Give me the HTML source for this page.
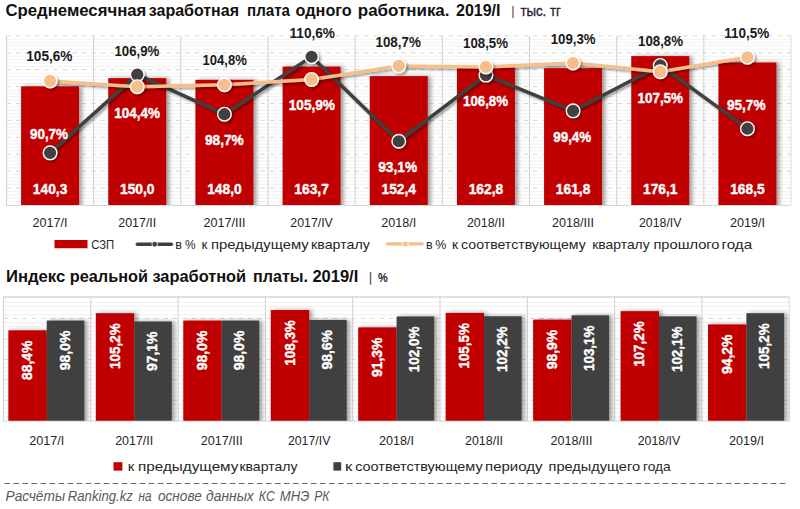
<!DOCTYPE html>
<html><head><meta charset="utf-8"><style>
html,body{margin:0;padding:0;background:#fff;width:800px;height:509px;overflow:hidden}
svg{display:block;font-family:"Liberation Sans", sans-serif}
</style></head><body>
<svg width="800" height="509" viewBox="0 0 800 509">
<rect width="800" height="509" fill="#fff"/>

<defs>
 <filter id="sh" x="-20%" y="-20%" width="150%" height="150%">
  <feGaussianBlur in="SourceAlpha" stdDeviation="2"/>
  <feOffset dx="3.2" dy="0" result="o"/>
  <feComponentTransfer><feFuncA type="linear" slope="0.38"/></feComponentTransfer>
  <feMerge><feMergeNode/><feMergeNode in="SourceGraphic"/></feMerge>
 </filter>
 <filter id="lsh" x="-5%" y="-20%" width="110%" height="150%">
  <feGaussianBlur in="SourceAlpha" stdDeviation="1.2"/>
  <feOffset dx="1.5" dy="2" result="o"/>
  <feComponentTransfer><feFuncA type="linear" slope="0.35"/></feComponentTransfer>
  <feMerge><feMergeNode/><feMergeNode in="SourceGraphic"/></feMerge>
 </filter>
 <clipPath id="cp1"><rect x="0" y="0" width="800" height="205"/></clipPath>
 <clipPath id="cp2"><rect x="0" y="260" width="800" height="160.7"/></clipPath>
</defs>

<line x1="6.5" x2="791.0" y1="201.52" y2="201.52" stroke="#eeeeee" stroke-width="0.8"/>
<line x1="6.5" x2="791.0" y1="198.14" y2="198.14" stroke="#eeeeee" stroke-width="0.8"/>
<line x1="6.5" x2="791.0" y1="194.76" y2="194.76" stroke="#eeeeee" stroke-width="0.8"/>
<line x1="6.5" x2="791.0" y1="191.38" y2="191.38" stroke="#eeeeee" stroke-width="0.8"/>
<line x1="6.5" x2="791.0" y1="184.62" y2="184.62" stroke="#eeeeee" stroke-width="0.8"/>
<line x1="6.5" x2="791.0" y1="181.24" y2="181.24" stroke="#eeeeee" stroke-width="0.8"/>
<line x1="6.5" x2="791.0" y1="177.86" y2="177.86" stroke="#eeeeee" stroke-width="0.8"/>
<line x1="6.5" x2="791.0" y1="174.48" y2="174.48" stroke="#eeeeee" stroke-width="0.8"/>
<line x1="6.5" x2="791.0" y1="167.72" y2="167.72" stroke="#eeeeee" stroke-width="0.8"/>
<line x1="6.5" x2="791.0" y1="164.34" y2="164.34" stroke="#eeeeee" stroke-width="0.8"/>
<line x1="6.5" x2="791.0" y1="160.96" y2="160.96" stroke="#eeeeee" stroke-width="0.8"/>
<line x1="6.5" x2="791.0" y1="157.58" y2="157.58" stroke="#eeeeee" stroke-width="0.8"/>
<line x1="6.5" x2="791.0" y1="150.82" y2="150.82" stroke="#eeeeee" stroke-width="0.8"/>
<line x1="6.5" x2="791.0" y1="147.44" y2="147.44" stroke="#eeeeee" stroke-width="0.8"/>
<line x1="6.5" x2="791.0" y1="144.06" y2="144.06" stroke="#eeeeee" stroke-width="0.8"/>
<line x1="6.5" x2="791.0" y1="140.68" y2="140.68" stroke="#eeeeee" stroke-width="0.8"/>
<line x1="6.5" x2="791.0" y1="133.92" y2="133.92" stroke="#eeeeee" stroke-width="0.8"/>
<line x1="6.5" x2="791.0" y1="130.54" y2="130.54" stroke="#eeeeee" stroke-width="0.8"/>
<line x1="6.5" x2="791.0" y1="127.16" y2="127.16" stroke="#eeeeee" stroke-width="0.8"/>
<line x1="6.5" x2="791.0" y1="123.78" y2="123.78" stroke="#eeeeee" stroke-width="0.8"/>
<line x1="6.5" x2="791.0" y1="117.02" y2="117.02" stroke="#eeeeee" stroke-width="0.8"/>
<line x1="6.5" x2="791.0" y1="113.64" y2="113.64" stroke="#eeeeee" stroke-width="0.8"/>
<line x1="6.5" x2="791.0" y1="110.26" y2="110.26" stroke="#eeeeee" stroke-width="0.8"/>
<line x1="6.5" x2="791.0" y1="106.88" y2="106.88" stroke="#eeeeee" stroke-width="0.8"/>
<line x1="6.5" x2="791.0" y1="100.12" y2="100.12" stroke="#eeeeee" stroke-width="0.8"/>
<line x1="6.5" x2="791.0" y1="96.74" y2="96.74" stroke="#eeeeee" stroke-width="0.8"/>
<line x1="6.5" x2="791.0" y1="93.36" y2="93.36" stroke="#eeeeee" stroke-width="0.8"/>
<line x1="6.5" x2="791.0" y1="89.98" y2="89.98" stroke="#eeeeee" stroke-width="0.8"/>
<line x1="6.5" x2="791.0" y1="83.22" y2="83.22" stroke="#eeeeee" stroke-width="0.8"/>
<line x1="6.5" x2="791.0" y1="79.84" y2="79.84" stroke="#eeeeee" stroke-width="0.8"/>
<line x1="6.5" x2="791.0" y1="76.46" y2="76.46" stroke="#eeeeee" stroke-width="0.8"/>
<line x1="6.5" x2="791.0" y1="73.08" y2="73.08" stroke="#eeeeee" stroke-width="0.8"/>
<line x1="6.5" x2="791.0" y1="66.32" y2="66.32" stroke="#eeeeee" stroke-width="0.8"/>
<line x1="6.5" x2="791.0" y1="62.94" y2="62.94" stroke="#eeeeee" stroke-width="0.8"/>
<line x1="6.5" x2="791.0" y1="59.56" y2="59.56" stroke="#eeeeee" stroke-width="0.8"/>
<line x1="6.5" x2="791.0" y1="56.18" y2="56.18" stroke="#eeeeee" stroke-width="0.8"/>
<line x1="6.5" x2="791.0" y1="49.42" y2="49.42" stroke="#eeeeee" stroke-width="0.8"/>
<line x1="6.5" x2="791.0" y1="46.04" y2="46.04" stroke="#eeeeee" stroke-width="0.8"/>
<line x1="6.5" x2="791.0" y1="42.66" y2="42.66" stroke="#eeeeee" stroke-width="0.8"/>
<line x1="6.5" x2="791.0" y1="39.28" y2="39.28" stroke="#eeeeee" stroke-width="0.8"/>
<line x1="6.5" x2="791.0" y1="188.00" y2="188.00" stroke="#d2d2d2" stroke-width="0.9" stroke-dasharray="4.6 4.8"/>
<line x1="6.5" x2="791.0" y1="171.10" y2="171.10" stroke="#d2d2d2" stroke-width="0.9" stroke-dasharray="4.6 4.8"/>
<line x1="6.5" x2="791.0" y1="154.20" y2="154.20" stroke="#d2d2d2" stroke-width="0.9" stroke-dasharray="4.6 4.8"/>
<line x1="6.5" x2="791.0" y1="137.30" y2="137.30" stroke="#d2d2d2" stroke-width="0.9" stroke-dasharray="4.6 4.8"/>
<line x1="6.5" x2="791.0" y1="120.40" y2="120.40" stroke="#d2d2d2" stroke-width="0.9" stroke-dasharray="4.6 4.8"/>
<line x1="6.5" x2="791.0" y1="103.50" y2="103.50" stroke="#d2d2d2" stroke-width="0.9" stroke-dasharray="4.6 4.8"/>
<line x1="6.5" x2="791.0" y1="86.60" y2="86.60" stroke="#d2d2d2" stroke-width="0.9" stroke-dasharray="4.6 4.8"/>
<line x1="6.5" x2="791.0" y1="69.70" y2="69.70" stroke="#d2d2d2" stroke-width="0.9" stroke-dasharray="4.6 4.8"/>
<line x1="6.5" x2="791.0" y1="52.80" y2="52.80" stroke="#d2d2d2" stroke-width="0.9" stroke-dasharray="4.6 4.8"/>
<line x1="6.5" x2="791.0" y1="35.90" y2="35.90" stroke="#d2d2d2" stroke-width="0.9" stroke-dasharray="4.6 4.8"/>
<line x1="93.67" x2="93.67" y1="35.9" y2="205.4" stroke="#d0d0d0" stroke-width="1"/>
<line x1="180.83" x2="180.83" y1="35.9" y2="205.4" stroke="#d0d0d0" stroke-width="1"/>
<line x1="268.00" x2="268.00" y1="35.9" y2="205.4" stroke="#d0d0d0" stroke-width="1"/>
<line x1="355.17" x2="355.17" y1="35.9" y2="205.4" stroke="#d0d0d0" stroke-width="1"/>
<line x1="442.33" x2="442.33" y1="35.9" y2="205.4" stroke="#d0d0d0" stroke-width="1"/>
<line x1="529.50" x2="529.50" y1="35.9" y2="205.4" stroke="#d0d0d0" stroke-width="1"/>
<line x1="616.67" x2="616.67" y1="35.9" y2="205.4" stroke="#d0d0d0" stroke-width="1"/>
<line x1="703.83" x2="703.83" y1="35.9" y2="205.4" stroke="#d0d0d0" stroke-width="1"/>
<line x1="6.5" x2="6.5" y1="35.9" y2="205.4" stroke="#d4d4d4" stroke-width="1.2"/>
<line x1="791.0" x2="791.0" y1="35.9" y2="205.4" stroke="#dcdcdc" stroke-width="1"/>
<line x1="6.5" x2="791.0" y1="205.4" y2="205.4" stroke="#d4d4d4" stroke-width="1"/>
<g clip-path="url(#cp1)"><g filter="url(#sh)">
<rect x="21.08" y="86.35" width="58" height="121.55" fill="#c00000"/>
<rect x="108.25" y="78.15" width="58" height="129.75" fill="#c00000"/>
<rect x="195.42" y="79.84" width="58" height="128.06" fill="#c00000"/>
<rect x="282.58" y="66.57" width="58" height="141.33" fill="#c00000"/>
<rect x="369.75" y="76.12" width="58" height="131.78" fill="#c00000"/>
<rect x="456.92" y="67.33" width="58" height="140.57" fill="#c00000"/>
<rect x="544.08" y="68.18" width="58" height="139.72" fill="#c00000"/>
<rect x="631.25" y="56.10" width="58" height="151.80" fill="#c00000"/>
<rect x="718.42" y="62.52" width="58" height="145.38" fill="#c00000"/>
</g></g>
<polyline points="50.08,152.83 137.25,74.61 224.42,114.21 311.58,56.75 398.75,141.25 485.92,75.09 573.08,110.83 660.25,65.44 747.42,128.69" fill="none" stroke="#404040" stroke-width="3.5" stroke-linejoin="round" filter="url(#lsh)"/>
<g filter="url(#lsh)">
<circle cx="50.08" cy="152.83" r="6.8" fill="#404040" stroke="#ffffff" stroke-width="1.4"/>
<circle cx="137.25" cy="74.61" r="6.8" fill="#404040" stroke="#ffffff" stroke-width="1.4"/>
<circle cx="224.42" cy="114.21" r="6.8" fill="#404040" stroke="#ffffff" stroke-width="1.4"/>
<circle cx="311.58" cy="56.75" r="6.8" fill="#404040" stroke="#ffffff" stroke-width="1.4"/>
<circle cx="398.75" cy="141.25" r="6.8" fill="#404040" stroke="#ffffff" stroke-width="1.4"/>
<circle cx="485.92" cy="75.09" r="6.8" fill="#404040" stroke="#ffffff" stroke-width="1.4"/>
<circle cx="573.08" cy="110.83" r="6.8" fill="#404040" stroke="#ffffff" stroke-width="1.4"/>
<circle cx="660.25" cy="65.44" r="6.8" fill="#404040" stroke="#ffffff" stroke-width="1.4"/>
<circle cx="747.42" cy="128.69" r="6.8" fill="#404040" stroke="#ffffff" stroke-width="1.4"/>
</g>
<polyline points="50.08,80.89 137.25,86.68 224.42,84.75 311.58,79.44 398.75,65.92 485.92,66.89 573.08,63.02 660.25,71.71 747.42,57.23" fill="none" stroke="#f6be89" stroke-width="3.5" stroke-linejoin="round" filter="url(#lsh)"/>
<g filter="url(#lsh)">
<circle cx="50.08" cy="80.89" r="6.8" fill="#f6be89" stroke="#ffffff" stroke-width="1.4"/>
<circle cx="137.25" cy="86.68" r="6.8" fill="#f6be89" stroke="#ffffff" stroke-width="1.4"/>
<circle cx="224.42" cy="84.75" r="6.8" fill="#f6be89" stroke="#ffffff" stroke-width="1.4"/>
<circle cx="311.58" cy="79.44" r="6.8" fill="#f6be89" stroke="#ffffff" stroke-width="1.4"/>
<circle cx="398.75" cy="65.92" r="6.8" fill="#f6be89" stroke="#ffffff" stroke-width="1.4"/>
<circle cx="485.92" cy="66.89" r="6.8" fill="#f6be89" stroke="#ffffff" stroke-width="1.4"/>
<circle cx="573.08" cy="63.02" r="6.8" fill="#f6be89" stroke="#ffffff" stroke-width="1.4"/>
<circle cx="660.25" cy="71.71" r="6.8" fill="#f6be89" stroke="#ffffff" stroke-width="1.4"/>
<circle cx="747.42" cy="57.23" r="6.8" fill="#f6be89" stroke="#ffffff" stroke-width="1.4"/>
</g>
<text x="26.25" y="61.25" font-size="15.2" font-weight="bold" font-style="normal" fill="#1a1a1a" textLength="46.25" lengthAdjust="spacingAndGlyphs">105,6%</text>
<text x="114.50" y="56.25" font-size="15.2" font-weight="bold" font-style="normal" fill="#1a1a1a" textLength="44.75" lengthAdjust="spacingAndGlyphs">106,9%</text>
<text x="202.50" y="64.50" font-size="15.2" font-weight="bold" font-style="normal" fill="#1a1a1a" textLength="44.25" lengthAdjust="spacingAndGlyphs">104,8%</text>
<text x="289.50" y="38.00" font-size="15.2" font-weight="bold" font-style="normal" fill="#1a1a1a" textLength="45.50" lengthAdjust="spacingAndGlyphs">110,6%</text>
<text x="375.50" y="47.00" font-size="15.2" font-weight="bold" font-style="normal" fill="#1a1a1a" textLength="45.25" lengthAdjust="spacingAndGlyphs">108,7%</text>
<text x="463.00" y="48.00" font-size="15.2" font-weight="bold" font-style="normal" fill="#1a1a1a" textLength="45.00" lengthAdjust="spacingAndGlyphs">108,5%</text>
<text x="550.75" y="44.25" font-size="15.2" font-weight="bold" font-style="normal" fill="#1a1a1a" textLength="44.75" lengthAdjust="spacingAndGlyphs">109,3%</text>
<text x="638.00" y="45.75" font-size="15.2" font-weight="bold" font-style="normal" fill="#1a1a1a" textLength="45.00" lengthAdjust="spacingAndGlyphs">108,8%</text>
<text x="724.25" y="38.00" font-size="15.2" font-weight="bold" font-style="normal" fill="#1a1a1a" textLength="45.00" lengthAdjust="spacingAndGlyphs">110,5%</text>
<text x="30.00" y="138.75" font-size="15.2" font-weight="bold" font-style="normal" fill="#ffffff" textLength="38.00" lengthAdjust="spacingAndGlyphs" stroke="#ffffff" stroke-width="0.4">90,7%</text>
<text x="114.25" y="117.50" font-size="15.2" font-weight="bold" font-style="normal" fill="#ffffff" textLength="45.75" lengthAdjust="spacingAndGlyphs" stroke="#ffffff" stroke-width="0.4">104,4%</text>
<text x="205.00" y="144.50" font-size="15.2" font-weight="bold" font-style="normal" fill="#ffffff" textLength="38.75" lengthAdjust="spacingAndGlyphs" stroke="#ffffff" stroke-width="0.4">98,7%</text>
<text x="288.75" y="110.00" font-size="15.2" font-weight="bold" font-style="normal" fill="#ffffff" textLength="46.25" lengthAdjust="spacingAndGlyphs" stroke="#ffffff" stroke-width="0.4">105,9%</text>
<text x="378.20" y="171.90" font-size="15.2" font-weight="bold" font-style="normal" fill="#ffffff" textLength="38.90" lengthAdjust="spacingAndGlyphs" stroke="#ffffff" stroke-width="0.4">93,1%</text>
<text x="463.00" y="106.25" font-size="15.2" font-weight="bold" font-style="normal" fill="#ffffff" textLength="45.00" lengthAdjust="spacingAndGlyphs" stroke="#ffffff" stroke-width="0.4">106,8%</text>
<text x="553.25" y="141.75" font-size="15.2" font-weight="bold" font-style="normal" fill="#ffffff" textLength="38.00" lengthAdjust="spacingAndGlyphs" stroke="#ffffff" stroke-width="0.4">99,4%</text>
<text x="637.50" y="102.50" font-size="15.2" font-weight="bold" font-style="normal" fill="#ffffff" textLength="45.50" lengthAdjust="spacingAndGlyphs" stroke="#ffffff" stroke-width="0.4">107,5%</text>
<text x="727.00" y="110.00" font-size="15.2" font-weight="bold" font-style="normal" fill="#ffffff" textLength="38.50" lengthAdjust="spacingAndGlyphs" stroke="#ffffff" stroke-width="0.4">95,7%</text>
<text x="32.83" y="193.60" font-size="15.2" font-weight="bold" font-style="normal" fill="#ffffff" textLength="34.50" lengthAdjust="spacingAndGlyphs" stroke="#ffffff" stroke-width="0.4">140,3</text>
<text x="120.00" y="193.60" font-size="15.2" font-weight="bold" font-style="normal" fill="#ffffff" textLength="34.50" lengthAdjust="spacingAndGlyphs" stroke="#ffffff" stroke-width="0.4">150,0</text>
<text x="207.17" y="193.60" font-size="15.2" font-weight="bold" font-style="normal" fill="#ffffff" textLength="34.50" lengthAdjust="spacingAndGlyphs" stroke="#ffffff" stroke-width="0.4">148,0</text>
<text x="294.33" y="193.60" font-size="15.2" font-weight="bold" font-style="normal" fill="#ffffff" textLength="34.50" lengthAdjust="spacingAndGlyphs" stroke="#ffffff" stroke-width="0.4">163,7</text>
<text x="381.50" y="193.60" font-size="15.2" font-weight="bold" font-style="normal" fill="#ffffff" textLength="34.50" lengthAdjust="spacingAndGlyphs" stroke="#ffffff" stroke-width="0.4">152,4</text>
<text x="468.67" y="193.60" font-size="15.2" font-weight="bold" font-style="normal" fill="#ffffff" textLength="34.50" lengthAdjust="spacingAndGlyphs" stroke="#ffffff" stroke-width="0.4">162,8</text>
<text x="555.83" y="193.60" font-size="15.2" font-weight="bold" font-style="normal" fill="#ffffff" textLength="34.50" lengthAdjust="spacingAndGlyphs" stroke="#ffffff" stroke-width="0.4">161,8</text>
<text x="643.00" y="193.60" font-size="15.2" font-weight="bold" font-style="normal" fill="#ffffff" textLength="34.50" lengthAdjust="spacingAndGlyphs" stroke="#ffffff" stroke-width="0.4">176,1</text>
<text x="730.17" y="193.60" font-size="15.2" font-weight="bold" font-style="normal" fill="#ffffff" textLength="34.50" lengthAdjust="spacingAndGlyphs" stroke="#ffffff" stroke-width="0.4">168,5</text>
<text x="32.58" y="227.00" font-size="12.5" font-weight="normal" font-style="normal" fill="#262626" textLength="35.00" lengthAdjust="spacingAndGlyphs">2017/I</text>
<text x="118.25" y="227.00" font-size="12.5" font-weight="normal" font-style="normal" fill="#262626" textLength="38.00" lengthAdjust="spacingAndGlyphs">2017/II</text>
<text x="203.42" y="227.00" font-size="12.5" font-weight="normal" font-style="normal" fill="#262626" textLength="42.00" lengthAdjust="spacingAndGlyphs">2017/III</text>
<text x="290.33" y="227.00" font-size="12.5" font-weight="normal" font-style="normal" fill="#262626" textLength="42.50" lengthAdjust="spacingAndGlyphs">2017/IV</text>
<text x="381.25" y="227.00" font-size="12.5" font-weight="normal" font-style="normal" fill="#262626" textLength="35.00" lengthAdjust="spacingAndGlyphs">2018/I</text>
<text x="466.92" y="227.00" font-size="12.5" font-weight="normal" font-style="normal" fill="#262626" textLength="38.00" lengthAdjust="spacingAndGlyphs">2018/II</text>
<text x="552.08" y="227.00" font-size="12.5" font-weight="normal" font-style="normal" fill="#262626" textLength="42.00" lengthAdjust="spacingAndGlyphs">2018/III</text>
<text x="639.00" y="227.00" font-size="12.5" font-weight="normal" font-style="normal" fill="#262626" textLength="42.50" lengthAdjust="spacingAndGlyphs">2018/IV</text>
<text x="729.92" y="227.00" font-size="12.5" font-weight="normal" font-style="normal" fill="#262626" textLength="35.00" lengthAdjust="spacingAndGlyphs">2019/I</text>
<rect x="54.5" y="240" width="33" height="8.25" fill="#c00000"/>
<text x="91.25" y="249.25" font-size="13" font-weight="normal" font-style="normal" fill="#262626" textLength="23.00" lengthAdjust="spacingAndGlyphs">СЗП</text>
<line x1="137.3" x2="171.4" y1="244.2" y2="244.2" stroke="#404040" stroke-width="3.4" stroke-linecap="round"/>
<circle cx="154.7" cy="244.2" r="2.8" fill="#404040" stroke="#fff" stroke-width="0.8"/>
<text x="175.30" y="248.60" font-size="13" font-weight="normal" font-style="normal" fill="#262626" textLength="6.70" lengthAdjust="spacingAndGlyphs">в</text>
<text x="185.00" y="248.60" font-size="13" font-weight="normal" font-style="normal" fill="#262626" textLength="10.60" lengthAdjust="spacingAndGlyphs">%</text>
<text x="201.40" y="248.60" font-size="13" font-weight="normal" font-style="normal" fill="#262626" textLength="5.90" lengthAdjust="spacingAndGlyphs">к</text>
<text x="211.10" y="248.60" font-size="13" font-weight="normal" font-style="normal" fill="#262626" textLength="97.60" lengthAdjust="spacingAndGlyphs">предыдущему</text>
<text x="311.10" y="248.60" font-size="13" font-weight="normal" font-style="normal" fill="#262626" textLength="58.80" lengthAdjust="spacingAndGlyphs">кварталу</text>
<line x1="387.6" x2="422.1" y1="243.9" y2="243.9" stroke="#f6be89" stroke-width="3.4" stroke-linecap="round"/>
<rect x="402.8" y="241.3" width="5.2" height="5.4" rx="0.8" fill="#f6be89" stroke="#fff" stroke-width="0.9"/>
<text x="426.00" y="248.60" font-size="13" font-weight="normal" font-style="normal" fill="#262626" textLength="6.60" lengthAdjust="spacingAndGlyphs">в</text>
<text x="435.20" y="248.60" font-size="13" font-weight="normal" font-style="normal" fill="#262626" textLength="11.10" lengthAdjust="spacingAndGlyphs">%</text>
<text x="452.10" y="248.60" font-size="13" font-weight="normal" font-style="normal" fill="#262626" textLength="6.10" lengthAdjust="spacingAndGlyphs">к</text>
<text x="461.10" y="248.60" font-size="13" font-weight="normal" font-style="normal" fill="#262626" textLength="124.60" lengthAdjust="spacingAndGlyphs">соответствующему</text>
<text x="592.20" y="248.60" font-size="13" font-weight="normal" font-style="normal" fill="#262626" textLength="57.50" lengthAdjust="spacingAndGlyphs">кварталу</text>
<text x="653.40" y="248.60" font-size="13" font-weight="normal" font-style="normal" fill="#262626" textLength="66.10" lengthAdjust="spacingAndGlyphs">прошлого</text>
<text x="721.50" y="248.60" font-size="13" font-weight="normal" font-style="normal" fill="#262626" textLength="30.60" lengthAdjust="spacingAndGlyphs">года</text>
<text x="5.50" y="16.10" font-size="16.5" font-weight="bold" font-style="normal" fill="#111111" textLength="140.80" lengthAdjust="spacingAndGlyphs">Среднемесячная</text>
<text x="148.80" y="16.10" font-size="16.5" font-weight="bold" font-style="normal" fill="#111111" textLength="90.20" lengthAdjust="spacingAndGlyphs">заработная</text>
<text x="247.00" y="16.10" font-size="16.5" font-weight="bold" font-style="normal" fill="#111111" textLength="43.00" lengthAdjust="spacingAndGlyphs">плата</text>
<text x="295.60" y="16.10" font-size="16.5" font-weight="bold" font-style="normal" fill="#111111" textLength="56.20" lengthAdjust="spacingAndGlyphs">одного</text>
<text x="357.80" y="16.10" font-size="16.5" font-weight="bold" font-style="normal" fill="#111111" textLength="91.70" lengthAdjust="spacingAndGlyphs">работника.</text>
<text x="456.00" y="16.10" font-size="16.5" font-weight="bold" font-style="normal" fill="#111111" textLength="44.50" lengthAdjust="spacingAndGlyphs">2019/I</text>
<rect x="512.2" y="5.8" width="1.5" height="12.3" fill="#8a7670"/>
<text x="520.40" y="15.90" font-size="15.5" font-weight="normal" font-style="normal" fill="#2b2030" textLength="40.50" lengthAdjust="spacingAndGlyphs" stroke="#2b2030" stroke-width="0.35">тыс. тг</text>
<line x1="3.5" x2="789.25" y1="416.52" y2="416.52" stroke="#eeeeee" stroke-width="0.8"/>
<line x1="3.5" x2="789.25" y1="412.43" y2="412.43" stroke="#eeeeee" stroke-width="0.8"/>
<line x1="3.5" x2="789.25" y1="408.35" y2="408.35" stroke="#eeeeee" stroke-width="0.8"/>
<line x1="3.5" x2="789.25" y1="404.26" y2="404.26" stroke="#eeeeee" stroke-width="0.8"/>
<line x1="3.5" x2="789.25" y1="396.10" y2="396.10" stroke="#eeeeee" stroke-width="0.8"/>
<line x1="3.5" x2="789.25" y1="392.01" y2="392.01" stroke="#eeeeee" stroke-width="0.8"/>
<line x1="3.5" x2="789.25" y1="387.93" y2="387.93" stroke="#eeeeee" stroke-width="0.8"/>
<line x1="3.5" x2="789.25" y1="383.84" y2="383.84" stroke="#eeeeee" stroke-width="0.8"/>
<line x1="3.5" x2="789.25" y1="375.68" y2="375.68" stroke="#eeeeee" stroke-width="0.8"/>
<line x1="3.5" x2="789.25" y1="371.59" y2="371.59" stroke="#eeeeee" stroke-width="0.8"/>
<line x1="3.5" x2="789.25" y1="367.51" y2="367.51" stroke="#eeeeee" stroke-width="0.8"/>
<line x1="3.5" x2="789.25" y1="363.42" y2="363.42" stroke="#eeeeee" stroke-width="0.8"/>
<line x1="3.5" x2="789.25" y1="355.26" y2="355.26" stroke="#eeeeee" stroke-width="0.8"/>
<line x1="3.5" x2="789.25" y1="351.17" y2="351.17" stroke="#eeeeee" stroke-width="0.8"/>
<line x1="3.5" x2="789.25" y1="347.09" y2="347.09" stroke="#eeeeee" stroke-width="0.8"/>
<line x1="3.5" x2="789.25" y1="343.00" y2="343.00" stroke="#eeeeee" stroke-width="0.8"/>
<line x1="3.5" x2="789.25" y1="334.84" y2="334.84" stroke="#eeeeee" stroke-width="0.8"/>
<line x1="3.5" x2="789.25" y1="330.75" y2="330.75" stroke="#eeeeee" stroke-width="0.8"/>
<line x1="3.5" x2="789.25" y1="326.67" y2="326.67" stroke="#eeeeee" stroke-width="0.8"/>
<line x1="3.5" x2="789.25" y1="322.58" y2="322.58" stroke="#eeeeee" stroke-width="0.8"/>
<line x1="3.5" x2="789.25" y1="314.42" y2="314.42" stroke="#eeeeee" stroke-width="0.8"/>
<line x1="3.5" x2="789.25" y1="310.33" y2="310.33" stroke="#eeeeee" stroke-width="0.8"/>
<line x1="3.5" x2="789.25" y1="306.25" y2="306.25" stroke="#eeeeee" stroke-width="0.8"/>
<line x1="3.5" x2="789.25" y1="302.16" y2="302.16" stroke="#eeeeee" stroke-width="0.8"/>
<line x1="3.5" x2="789.25" y1="400.18" y2="400.18" stroke="#d2d2d2" stroke-width="0.9" stroke-dasharray="4.6 4.8"/>
<line x1="3.5" x2="789.25" y1="379.76" y2="379.76" stroke="#d2d2d2" stroke-width="0.9" stroke-dasharray="4.6 4.8"/>
<line x1="3.5" x2="789.25" y1="359.34" y2="359.34" stroke="#d2d2d2" stroke-width="0.9" stroke-dasharray="4.6 4.8"/>
<line x1="3.5" x2="789.25" y1="338.92" y2="338.92" stroke="#d2d2d2" stroke-width="0.9" stroke-dasharray="4.6 4.8"/>
<line x1="3.5" x2="789.25" y1="318.50" y2="318.50" stroke="#d2d2d2" stroke-width="0.9" stroke-dasharray="4.6 4.8"/>
<line x1="90.81" x2="90.81" y1="297.0" y2="421.1" stroke="#d0d0d0" stroke-width="1"/>
<line x1="178.11" x2="178.11" y1="297.0" y2="421.1" stroke="#d0d0d0" stroke-width="1"/>
<line x1="265.42" x2="265.42" y1="297.0" y2="421.1" stroke="#d0d0d0" stroke-width="1"/>
<line x1="352.72" x2="352.72" y1="297.0" y2="421.1" stroke="#d0d0d0" stroke-width="1"/>
<line x1="440.03" x2="440.03" y1="297.0" y2="421.1" stroke="#d0d0d0" stroke-width="1"/>
<line x1="527.33" x2="527.33" y1="297.0" y2="421.1" stroke="#d0d0d0" stroke-width="1"/>
<line x1="614.64" x2="614.64" y1="297.0" y2="421.1" stroke="#d0d0d0" stroke-width="1"/>
<line x1="701.94" x2="701.94" y1="297.0" y2="421.1" stroke="#d0d0d0" stroke-width="1"/>
<line x1="3.5" x2="789.25" y1="297.0" y2="297.0" stroke="#d6d6d6" stroke-width="1.6"/>
<line x1="3.5" x2="3.5" y1="297.0" y2="421.1" stroke="#d4d4d4" stroke-width="1.2"/>
<line x1="789.25" x2="789.25" y1="297.0" y2="421.1" stroke="#dcdcdc" stroke-width="1"/>
<line x1="3.5" x2="789.25" y1="421.1" y2="421.1" stroke="#d4d4d4" stroke-width="1"/>
<g clip-path="url(#cp2)"><g filter="url(#sh)">
<rect x="8.35" y="330.34" width="38.4" height="93.26" fill="#c00000"/>
<rect x="46.75" y="320.54" width="37.6" height="103.06" fill="#404040"/>
<rect x="95.81" y="313.19" width="38.4" height="110.41" fill="#c00000"/>
<rect x="134.21" y="321.46" width="37.6" height="102.14" fill="#404040"/>
<rect x="183.27" y="320.54" width="38.4" height="103.06" fill="#c00000"/>
<rect x="221.67" y="320.54" width="37.6" height="103.06" fill="#404040"/>
<rect x="270.73" y="310.03" width="38.4" height="113.57" fill="#c00000"/>
<rect x="309.13" y="319.93" width="37.6" height="103.67" fill="#404040"/>
<rect x="358.19" y="327.38" width="38.4" height="96.22" fill="#c00000"/>
<rect x="396.59" y="316.46" width="37.6" height="107.14" fill="#404040"/>
<rect x="445.65" y="312.88" width="38.4" height="110.72" fill="#c00000"/>
<rect x="484.05" y="316.25" width="37.6" height="107.35" fill="#404040"/>
<rect x="533.11" y="319.62" width="38.4" height="103.98" fill="#c00000"/>
<rect x="571.51" y="315.33" width="37.6" height="108.27" fill="#404040"/>
<rect x="620.57" y="311.15" width="38.4" height="112.45" fill="#c00000"/>
<rect x="658.97" y="316.36" width="37.6" height="107.24" fill="#404040"/>
<rect x="708.03" y="324.42" width="38.4" height="99.18" fill="#c00000"/>
<rect x="746.43" y="313.19" width="37.6" height="110.41" fill="#404040"/>
</g></g>
<text transform="translate(32.15,379.94) rotate(-90)" x="0" y="0" font-size="15.2" font-weight="bold" fill="#ffffff" stroke="#ffffff" stroke-width="0.4" textLength="39.40" lengthAdjust="spacingAndGlyphs">88,4%</text>
<text transform="translate(69.55,370.14) rotate(-90)" x="0" y="0" font-size="15.2" font-weight="bold" fill="#ffffff" stroke="#ffffff" stroke-width="0.4" textLength="39.40" lengthAdjust="spacingAndGlyphs">98,0%</text>
<text transform="translate(119.61,368.89) rotate(-90)" x="0" y="0" font-size="15.2" font-weight="bold" fill="#ffffff" stroke="#ffffff" stroke-width="0.4" textLength="45.50" lengthAdjust="spacingAndGlyphs">105,2%</text>
<text transform="translate(157.01,371.06) rotate(-90)" x="0" y="0" font-size="15.2" font-weight="bold" fill="#ffffff" stroke="#ffffff" stroke-width="0.4" textLength="39.40" lengthAdjust="spacingAndGlyphs">97,1%</text>
<text transform="translate(207.07,370.14) rotate(-90)" x="0" y="0" font-size="15.2" font-weight="bold" fill="#ffffff" stroke="#ffffff" stroke-width="0.4" textLength="39.40" lengthAdjust="spacingAndGlyphs">98,0%</text>
<text transform="translate(244.47,370.14) rotate(-90)" x="0" y="0" font-size="15.2" font-weight="bold" fill="#ffffff" stroke="#ffffff" stroke-width="0.4" textLength="39.40" lengthAdjust="spacingAndGlyphs">98,0%</text>
<text transform="translate(294.53,365.73) rotate(-90)" x="0" y="0" font-size="15.2" font-weight="bold" fill="#ffffff" stroke="#ffffff" stroke-width="0.4" textLength="45.50" lengthAdjust="spacingAndGlyphs">108,3%</text>
<text transform="translate(331.93,369.53) rotate(-90)" x="0" y="0" font-size="15.2" font-weight="bold" fill="#ffffff" stroke="#ffffff" stroke-width="0.4" textLength="39.40" lengthAdjust="spacingAndGlyphs">98,6%</text>
<text transform="translate(381.99,376.98) rotate(-90)" x="0" y="0" font-size="15.2" font-weight="bold" fill="#ffffff" stroke="#ffffff" stroke-width="0.4" textLength="39.40" lengthAdjust="spacingAndGlyphs">91,3%</text>
<text transform="translate(419.39,372.16) rotate(-90)" x="0" y="0" font-size="15.2" font-weight="bold" fill="#ffffff" stroke="#ffffff" stroke-width="0.4" textLength="45.50" lengthAdjust="spacingAndGlyphs">102,0%</text>
<text transform="translate(469.45,368.58) rotate(-90)" x="0" y="0" font-size="15.2" font-weight="bold" fill="#ffffff" stroke="#ffffff" stroke-width="0.4" textLength="45.50" lengthAdjust="spacingAndGlyphs">105,5%</text>
<text transform="translate(506.85,371.95) rotate(-90)" x="0" y="0" font-size="15.2" font-weight="bold" fill="#ffffff" stroke="#ffffff" stroke-width="0.4" textLength="45.50" lengthAdjust="spacingAndGlyphs">102,2%</text>
<text transform="translate(556.91,369.22) rotate(-90)" x="0" y="0" font-size="15.2" font-weight="bold" fill="#ffffff" stroke="#ffffff" stroke-width="0.4" textLength="39.40" lengthAdjust="spacingAndGlyphs">98,9%</text>
<text transform="translate(594.31,371.03) rotate(-90)" x="0" y="0" font-size="15.2" font-weight="bold" fill="#ffffff" stroke="#ffffff" stroke-width="0.4" textLength="45.50" lengthAdjust="spacingAndGlyphs">103,1%</text>
<text transform="translate(644.37,366.85) rotate(-90)" x="0" y="0" font-size="15.2" font-weight="bold" fill="#ffffff" stroke="#ffffff" stroke-width="0.4" textLength="45.50" lengthAdjust="spacingAndGlyphs">107,2%</text>
<text transform="translate(681.77,372.06) rotate(-90)" x="0" y="0" font-size="15.2" font-weight="bold" fill="#ffffff" stroke="#ffffff" stroke-width="0.4" textLength="45.50" lengthAdjust="spacingAndGlyphs">102,1%</text>
<text transform="translate(731.83,374.02) rotate(-90)" x="0" y="0" font-size="15.2" font-weight="bold" fill="#ffffff" stroke="#ffffff" stroke-width="0.4" textLength="39.40" lengthAdjust="spacingAndGlyphs">94,2%</text>
<text transform="translate(769.23,368.89) rotate(-90)" x="0" y="0" font-size="15.2" font-weight="bold" fill="#ffffff" stroke="#ffffff" stroke-width="0.4" textLength="45.50" lengthAdjust="spacingAndGlyphs">105,2%</text>
<text x="29.25" y="444.50" font-size="12.5" font-weight="normal" font-style="normal" fill="#262626" textLength="35.00" lengthAdjust="spacingAndGlyphs">2017/I</text>
<text x="115.21" y="444.50" font-size="12.5" font-weight="normal" font-style="normal" fill="#262626" textLength="38.00" lengthAdjust="spacingAndGlyphs">2017/II</text>
<text x="200.67" y="444.50" font-size="12.5" font-weight="normal" font-style="normal" fill="#262626" textLength="42.00" lengthAdjust="spacingAndGlyphs">2017/III</text>
<text x="287.88" y="444.50" font-size="12.5" font-weight="normal" font-style="normal" fill="#262626" textLength="42.50" lengthAdjust="spacingAndGlyphs">2017/IV</text>
<text x="379.09" y="444.50" font-size="12.5" font-weight="normal" font-style="normal" fill="#262626" textLength="35.00" lengthAdjust="spacingAndGlyphs">2018/I</text>
<text x="465.05" y="444.50" font-size="12.5" font-weight="normal" font-style="normal" fill="#262626" textLength="38.00" lengthAdjust="spacingAndGlyphs">2018/II</text>
<text x="550.51" y="444.50" font-size="12.5" font-weight="normal" font-style="normal" fill="#262626" textLength="42.00" lengthAdjust="spacingAndGlyphs">2018/III</text>
<text x="637.72" y="444.50" font-size="12.5" font-weight="normal" font-style="normal" fill="#262626" textLength="42.50" lengthAdjust="spacingAndGlyphs">2018/IV</text>
<text x="728.93" y="444.50" font-size="12.5" font-weight="normal" font-style="normal" fill="#262626" textLength="35.00" lengthAdjust="spacingAndGlyphs">2019/I</text>
<rect x="113.5" y="462.2" width="8.9" height="8.4" fill="#c00000"/>
<text x="127.70" y="470.60" font-size="13" font-weight="normal" font-style="normal" fill="#262626" textLength="6.60" lengthAdjust="spacingAndGlyphs">к</text>
<text x="138.00" y="470.60" font-size="13" font-weight="normal" font-style="normal" fill="#262626" textLength="100.40" lengthAdjust="spacingAndGlyphs">предыдущему</text>
<text x="239.40" y="470.60" font-size="13" font-weight="normal" font-style="normal" fill="#262626" textLength="58.10" lengthAdjust="spacingAndGlyphs">кварталу</text>
<rect x="333.4" y="462.2" width="7.8" height="8.4" fill="#404040"/>
<text x="344.90" y="470.60" font-size="13" font-weight="normal" font-style="normal" fill="#262626" textLength="7.30" lengthAdjust="spacingAndGlyphs">к</text>
<text x="355.20" y="470.60" font-size="13" font-weight="normal" font-style="normal" fill="#262626" textLength="127.50" lengthAdjust="spacingAndGlyphs">соответствующему</text>
<text x="485.00" y="470.60" font-size="13" font-weight="normal" font-style="normal" fill="#262626" textLength="57.50" lengthAdjust="spacingAndGlyphs">периоду</text>
<text x="548.50" y="470.60" font-size="13" font-weight="normal" font-style="normal" fill="#262626" textLength="91.50" lengthAdjust="spacingAndGlyphs">предыдущего</text>
<text x="643.00" y="470.60" font-size="13" font-weight="normal" font-style="normal" fill="#262626" textLength="27.60" lengthAdjust="spacingAndGlyphs">года</text>
<text x="6.00" y="281.80" font-size="16.3" font-weight="bold" font-style="normal" fill="#111111" textLength="59.20" lengthAdjust="spacingAndGlyphs">Индекс</text>
<text x="69.70" y="281.80" font-size="16.3" font-weight="bold" font-style="normal" fill="#111111" textLength="78.30" lengthAdjust="spacingAndGlyphs">реальной</text>
<text x="152.40" y="281.80" font-size="16.3" font-weight="bold" font-style="normal" fill="#111111" textLength="93.80" lengthAdjust="spacingAndGlyphs">заработной</text>
<text x="253.00" y="281.80" font-size="16.3" font-weight="bold" font-style="normal" fill="#111111" textLength="55.00" lengthAdjust="spacingAndGlyphs">платы.</text>
<text x="312.40" y="281.80" font-size="16.3" font-weight="bold" font-style="normal" fill="#111111" textLength="45.90" lengthAdjust="spacingAndGlyphs">2019/I</text>
<rect x="369.8" y="272" width="1.5" height="12.7" fill="#6f6a6a"/>
<text x="378.00" y="281.75" font-size="13.5" font-weight="bold" font-style="normal" fill="#1f1f1f" textLength="9.75" lengthAdjust="spacingAndGlyphs">%</text>
<line x1="4.4" x2="785.4" y1="483.5" y2="483.5" stroke="#6a6a6a" stroke-width="1.1" stroke-dasharray="5.7 3.316"/>
<text x="5.50" y="501.00" font-size="14" font-weight="normal" font-style="italic" fill="#595959" textLength="59.50" lengthAdjust="spacingAndGlyphs">Расчёты</text>
<text x="67.80" y="501.00" font-size="14" font-weight="normal" font-style="italic" fill="#595959" textLength="65.00" lengthAdjust="spacingAndGlyphs">Ranking.kz</text>
<text x="138.50" y="501.00" font-size="14" font-weight="normal" font-style="italic" fill="#595959" textLength="13.00" lengthAdjust="spacingAndGlyphs">на</text>
<text x="158.00" y="501.00" font-size="14" font-weight="normal" font-style="italic" fill="#595959" textLength="43.80" lengthAdjust="spacingAndGlyphs">основе</text>
<text x="206.00" y="501.00" font-size="14" font-weight="normal" font-style="italic" fill="#595959" textLength="47.80" lengthAdjust="spacingAndGlyphs">данных</text>
<text x="258.80" y="501.00" font-size="14" font-weight="normal" font-style="italic" fill="#595959" textLength="16.00" lengthAdjust="spacingAndGlyphs">КС</text>
<text x="279.80" y="501.00" font-size="14" font-weight="normal" font-style="italic" fill="#595959" textLength="29.50" lengthAdjust="spacingAndGlyphs">МНЭ</text>
<text x="314.30" y="501.00" font-size="14" font-weight="normal" font-style="italic" fill="#595959" textLength="15.20" lengthAdjust="spacingAndGlyphs">РК</text>
</svg>
</body></html>
